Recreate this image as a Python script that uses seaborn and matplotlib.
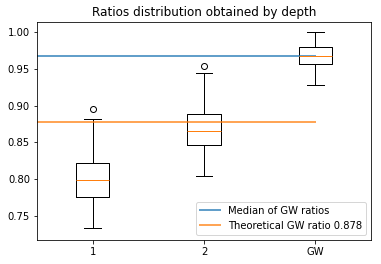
import matplotlib
matplotlib.use('Agg')
import matplotlib.pyplot as plt
import numpy as np
import pandas as pd
import seaborn as sns

depth1 = [0.733, 0.750, 0.765, 0.776, 0.785, 0.792, 0.799, 0.806, 0.814, 0.822, 0.850, 0.8816, 0.895]
depth2 = [0.8046, 0.825, 0.840, 0.8465, 0.852, 0.859, 0.865, 0.872, 0.880, 0.888, 0.915, 0.945, 0.9546]
gw = [0.9276, 0.940, 0.950, 0.956, 0.960, 0.964, 0.967, 0.970, 0.975, 0.980, 0.988, 0.995, 1.000]
labels = ['1', '2', 'GW']
theoretical = 0.878

df = pd.concat([pd.DataFrame({'depth': lab, 'ratio': vals})
                for lab, vals in zip(labels, [depth1, depth2, gw])])

fig = plt.figure(figsize=(381 / 72, 264 / 72), dpi=72)
ax = fig.add_axes([0.097, 0.091, 0.877, 0.826])

sns.boxplot(data=df, x='depth', y='ratio', order=labels, width=0.3, fill=False,
            color='black', linewidth=1, whis=1.5, ax=ax,
            medianprops=dict(color='C1'),
            flierprops=dict(marker='o', markerfacecolor='none', markeredgecolor='black', markersize=6))

gw_median = np.median(gw)
ax.plot([-0.5, 2], [gw_median, gw_median], color='C0', lw=2, alpha=0.7, label='Median of GW ratios')
ax.plot([-0.5, 2], [theoretical, theoretical], color='C1', lw=2, alpha=0.7,
        label='Theoretical GW ratio {0}'.format(theoretical))

ax.set_xlim(-0.5, 2.5)
ax.set_ylim(0.717, 1.014)
ax.set_yticks(np.arange(0.75, 1.001, 0.05))
ax.set_yticklabels(['{0:.2f}'.format(t) for t in np.arange(0.75, 1.001, 0.05)])
ax.set_xlabel('')
ax.set_ylabel('')
ax.tick_params(labelsize=10)
ax.set_title('Ratios distribution obtained by depth', fontsize=12)
ax.legend(loc='lower right', fontsize=10)

fig.savefig('out.png', dpi=72)
